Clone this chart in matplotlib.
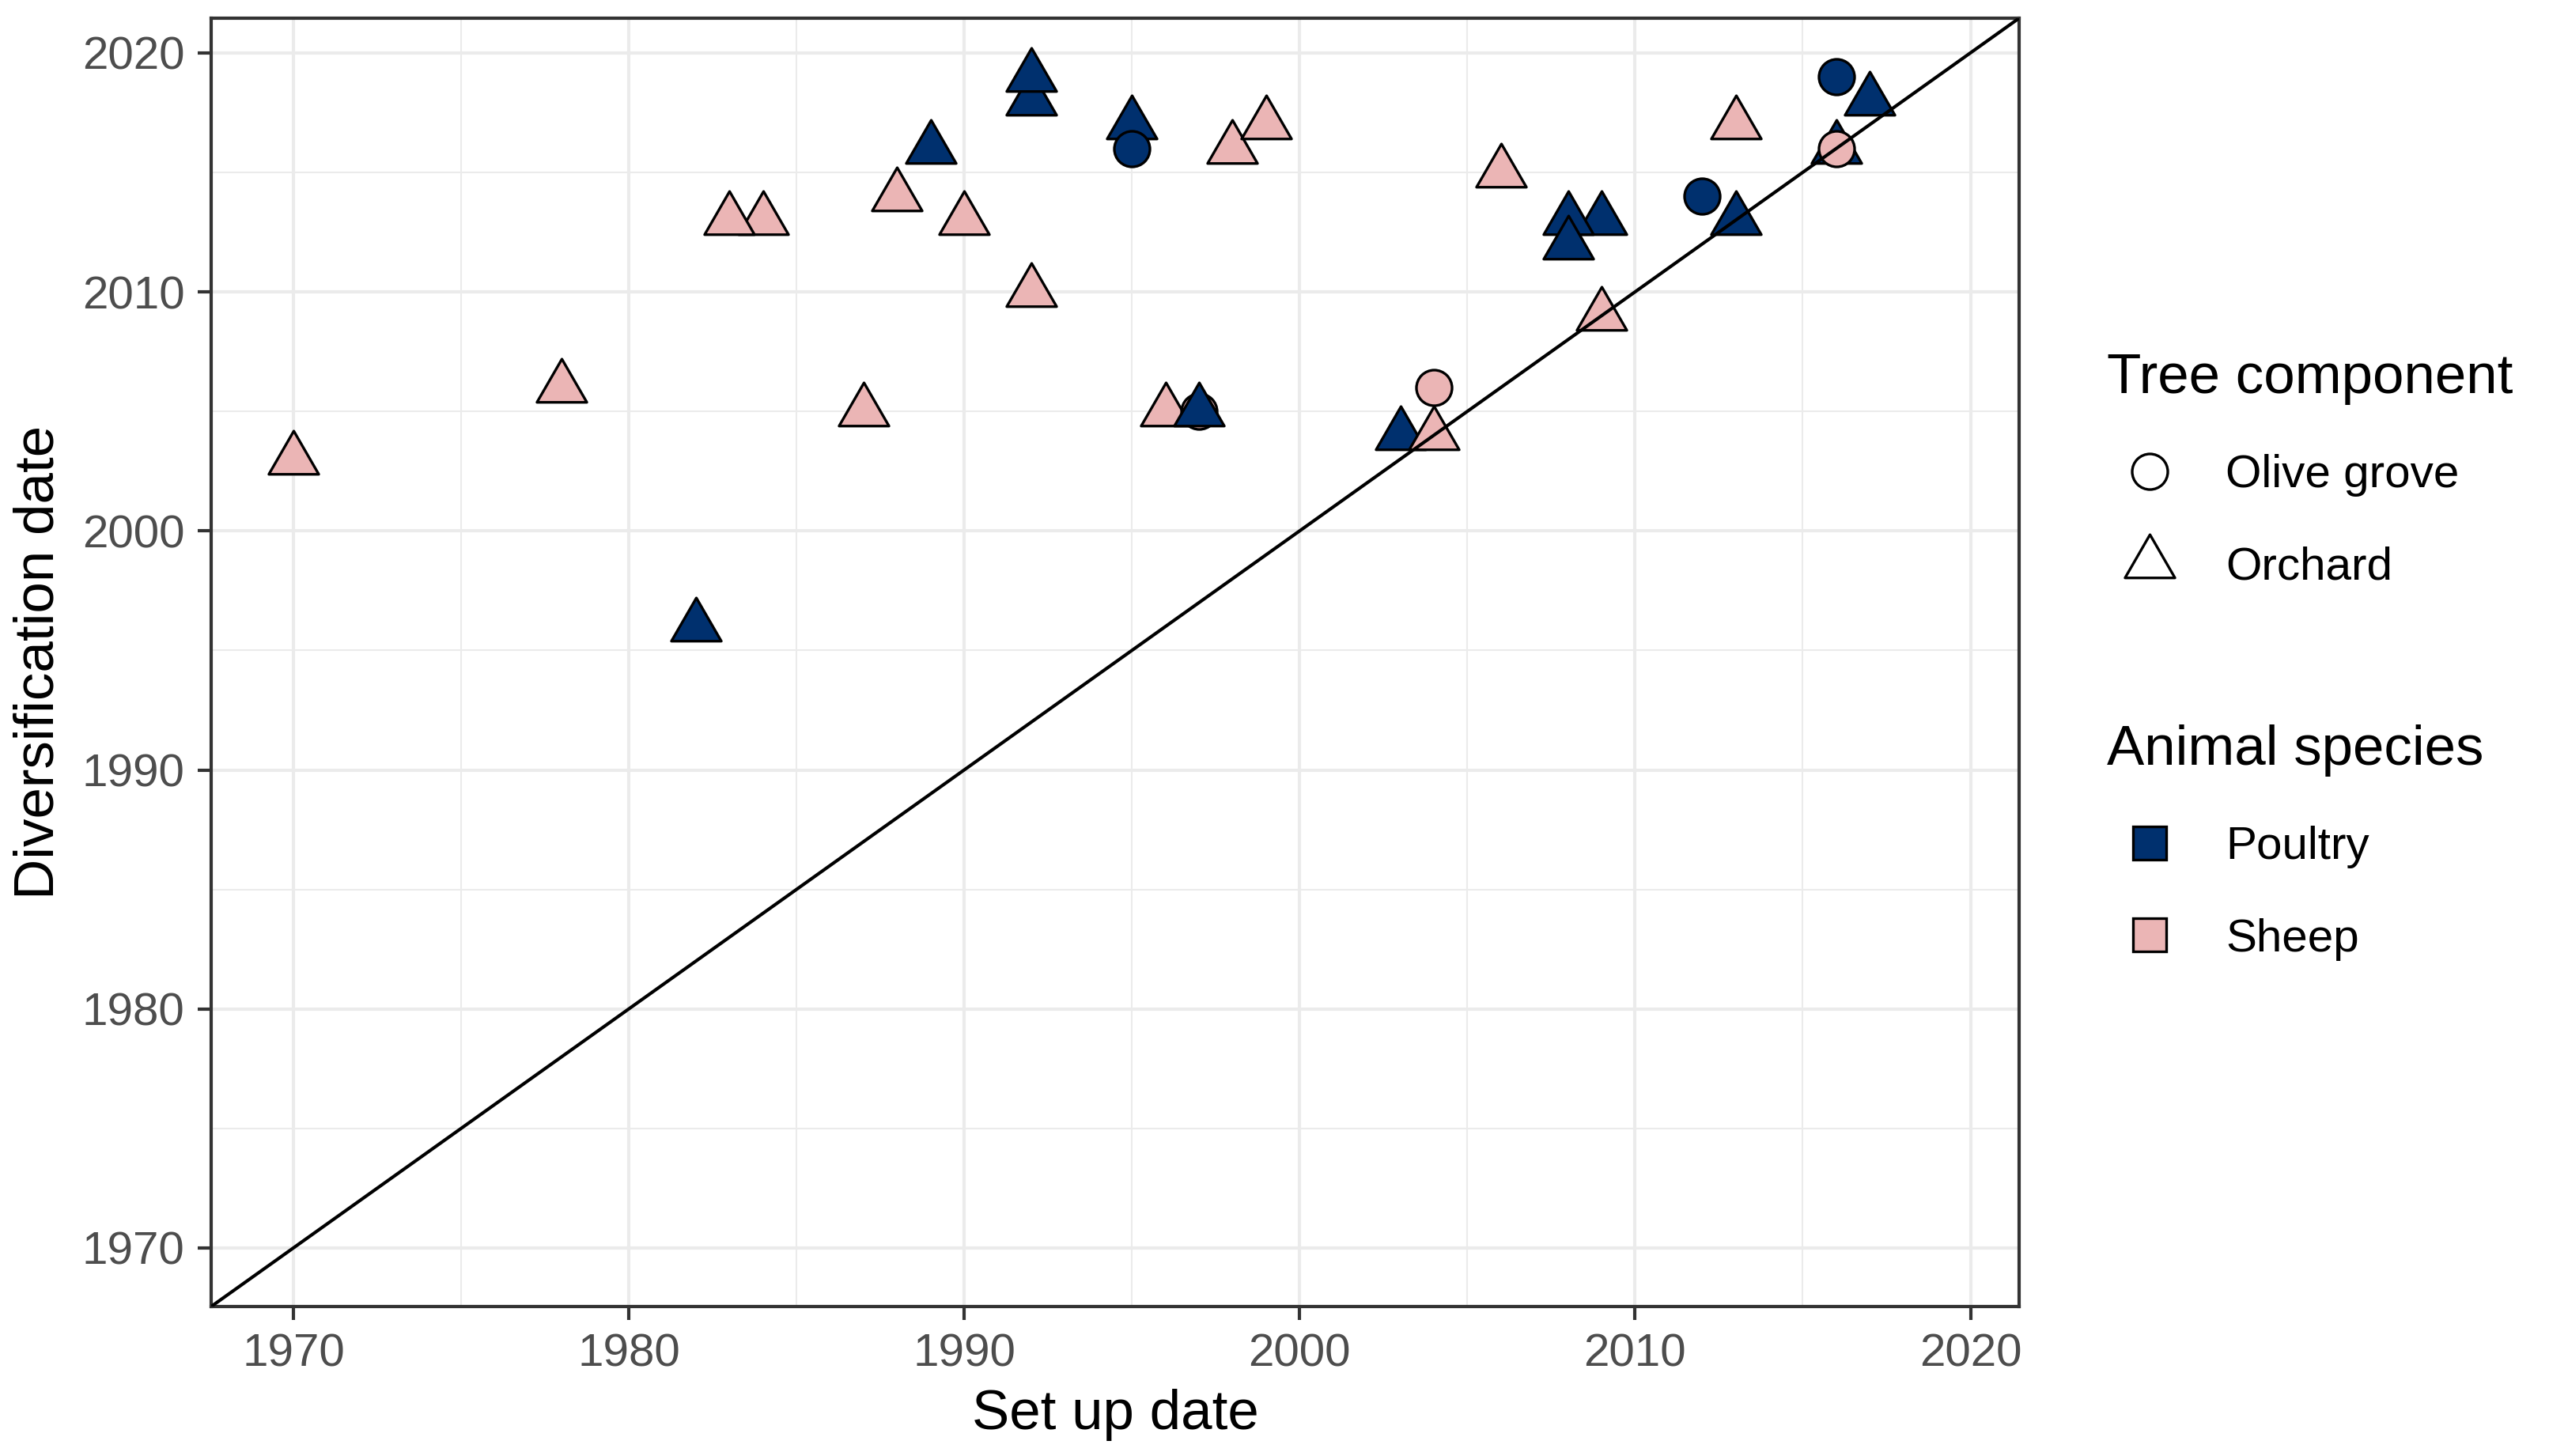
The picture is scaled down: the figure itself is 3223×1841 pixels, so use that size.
import matplotlib
matplotlib.use('Agg')
import matplotlib.pyplot as plt
from matplotlib.path import Path
from matplotlib.lines import Line2D
from matplotlib.ticker import MultipleLocator

plt.rcParams['font.family'] = ['Liberation Sans', 'DejaVu Sans']

# one row per farm
setup_date = [1970, 1978, 1982, 1984, 1983, 1987, 1988, 1989, 1990, 1992, 1992, 1992,
              1995, 1995, 1996, 1997, 1997, 1998, 1999, 2003, 2004, 2004, 2006, 2009,
              2008, 2008, 2009, 2012, 2013, 2013, 2016, 2016, 2016, 2017]
divers_date = [2003, 2006, 1996, 2013, 2013, 2005, 2014, 2016, 2013, 2010, 2018, 2019,
               2017, 2016, 2005, 2005, 2005, 2016, 2017, 2004, 2004, 2006, 2015, 2013,
               2013, 2012, 2009, 2014, 2013, 2017, 2019, 2016, 2016, 2018]
species = ['Sheep', 'Sheep', 'Poultry', 'Sheep', 'Sheep', 'Sheep', 'Sheep', 'Poultry',
           'Sheep', 'Sheep', 'Poultry', 'Poultry', 'Poultry', 'Poultry', 'Sheep', 'Sheep',
           'Poultry', 'Sheep', 'Sheep', 'Poultry', 'Sheep', 'Sheep', 'Sheep', 'Poultry',
           'Poultry', 'Poultry', 'Sheep', 'Poultry', 'Poultry', 'Sheep', 'Poultry',
           'Poultry', 'Sheep', 'Poultry']
tree = ['Orchard', 'Orchard', 'Orchard', 'Orchard', 'Orchard', 'Orchard', 'Orchard',
        'Orchard', 'Orchard', 'Orchard', 'Orchard', 'Orchard', 'Orchard', 'Olive grove',
        'Orchard', 'Olive grove', 'Orchard', 'Orchard', 'Orchard', 'Orchard', 'Orchard',
        'Olive grove', 'Orchard', 'Orchard', 'Orchard', 'Orchard', 'Orchard', 'Olive grove',
        'Orchard', 'Orchard', 'Olive grove', 'Orchard', 'Olive grove', 'Orchard']

species_levels = ['Poultry', 'Sheep']
tree_levels = ['Olive grove', 'Orchard']
colors = {'Poultry': '#00306e', 'Sheep': '#ebb5b5'}

# triangle centred on its centroid, like R's pch 24
tri = Path([(0, 1), (0.866, -0.5), (-0.866, -0.5), (0, 1)],
           [Path.MOVETO, Path.LINETO, Path.LINETO, Path.CLOSEPOLY])
markers = {'Olive grove': 'o', 'Orchard': tri}
sizes = {'Olive grove': 10.8, 'Orchard': 17.5}

fig = plt.figure(figsize=(3223 / 300, 1841 / 300), dpi=300)
ax = fig.add_axes([267 / 3223, 1 - 1652 / 1841, (2553 - 267) / 3223, (1652 - 23) / 1841])

for x, y, sp, tr in zip(setup_date, divers_date, species, tree):
    ax.plot(x, y, linestyle='none', marker=markers[tr], markersize=sizes[tr],
            markerfacecolor=colors[sp], markeredgecolor='black', markeredgewidth=0.8,
            zorder=3)

lo, hi = 1967.55, 2021.45
ax.axline((1970, 1970), slope=1, color='black', lw=1.0, zorder=4)
ax.set_xlim(lo, hi)
ax.set_ylim(lo, hi)

ax.xaxis.set_major_locator(MultipleLocator(10))
ax.yaxis.set_major_locator(MultipleLocator(10))
ax.xaxis.set_minor_locator(MultipleLocator(5))
ax.yaxis.set_minor_locator(MultipleLocator(5))
ax.grid(which='major', color='#ebebeb', lw=1.0, zorder=0)
ax.grid(which='minor', color='#ebebeb', lw=0.5, zorder=0)
ax.set_axisbelow(True)
ax.tick_params(which='major', length=4, width=1.0, color='#333333',
               labelsize=14, labelcolor='#4d4d4d', pad=4)
ax.tick_params(which='minor', length=0)
for s in ax.spines.values():
    s.set_color('#333333')
    s.set_linewidth(1.0)

ax.set_xlabel('Set up date', fontsize=17, labelpad=4)
ax.set_ylabel('Diversification date', fontsize=17, labelpad=5)

# legends
tree_handles = [Line2D([], [], linestyle='none', marker=markers[t], markersize=sizes[t],
                       markerfacecolor='white', markeredgecolor='black',
                       markeredgewidth=0.8) for t in tree_levels]
leg1 = fig.legend(tree_handles, tree_levels, title='Tree component',
                  loc='upper left', bbox_to_anchor=(2664 / 3223, 1 - 446 / 1841),
                  frameon=False, fontsize=14, title_fontsize=17, alignment='left',
                  borderpad=0, borderaxespad=0, handlelength=1.86, handletextpad=0.72,
                  labelspacing=1.07)

sp_handles = [Line2D([], [], linestyle='none', marker='s', markersize=10.3,
                     markerfacecolor=colors[s], markeredgecolor='black',
                     markeredgewidth=0.8) for s in species_levels]
leg2 = fig.legend(sp_handles, species_levels, title='Animal species',
                  loc='upper left', bbox_to_anchor=(2664 / 3223, 1 - 916 / 1841),
                  frameon=False, fontsize=14, title_fontsize=17, alignment='left',
                  borderpad=0, borderaxespad=0, handlelength=1.86, handletextpad=0.72,
                  labelspacing=1.07)

fig.savefig('out.png', dpi=300)
